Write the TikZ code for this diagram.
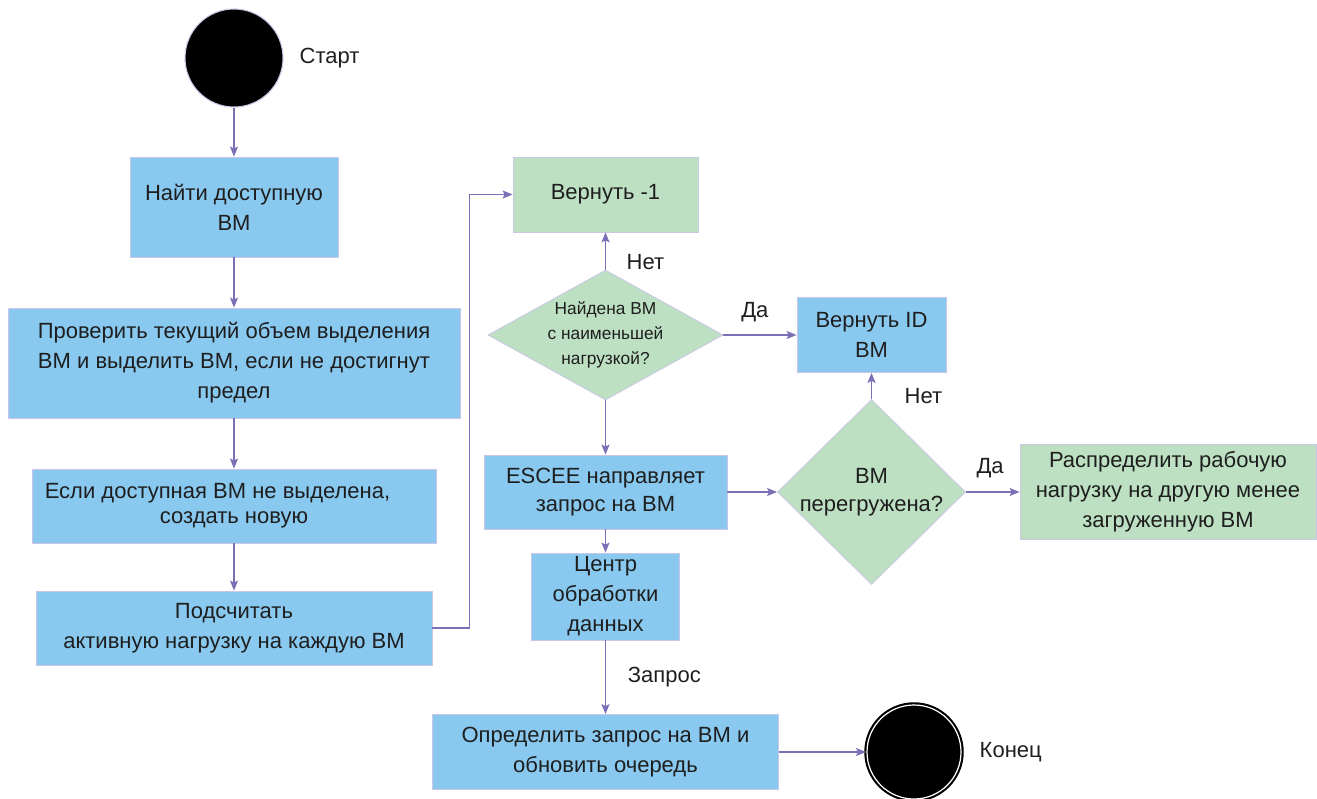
\documentclass[tikz,border=0pt]{standalone}
\usepackage{fontspec}
\setmainfont{Liberation Sans}
\usepackage{xcolor}
\usetikzlibrary{shapes.geometric, arrows.meta, positioning}

\definecolor{boxblue}{HTML}{89C9EF}
\definecolor{boxgreen}{HTML}{BDE0C3}
\definecolor{edgelav}{HTML}{C9C6E6}
\definecolor{flowpurple}{HTML}{7B70B6}
\definecolor{inktext}{HTML}{1E1E1E}

\begin{document}
\begin{tikzpicture}[
    x=0.75pt, y=-0.75pt,
    sz/.style 2 args={minimum width=#1*0.75pt, minimum height=#2*0.75pt},
    box/.style={draw=edgelav, line width=0.6pt, fill=#1, align=center, inner sep=0pt, text=inktext, font=\fontsize{16.5}{22.5}\selectfont},
    decision/.style={diamond, draw=edgelav, line width=0.6pt, fill=boxgreen, inner sep=0pt},
    lbl/.style={text=inktext, font=\fontsize{16.5}{20}\selectfont},
    arr/.style={-{Stealth[length=7.5pt, width=6pt, inset=1.5pt]}, draw=flowpurple, line width=1pt}
]
    \useasboundingbox (0,0) rectangle (1317,799);

    % Left column
    \node[circle, fill=black, draw=edgelav, line width=0.8pt, sz={98}{98}] (start) at (234,58) {};
    \node[lbl, anchor=west] (startlbl) at (295,58) {Старт};
    \node[box=boxblue, sz={208}{100}] (find)   at (234,207) {Найти доступную\\ВМ};
    \node[box=boxblue, sz={452}{110}] (check)  at (234,363) {Проверить текущий объем выделения\\ВМ и выделить ВМ, если не достигнут\\предел};
    \node[box=boxblue, sz={404}{74}, font=\fontsize{16.5}{19}\selectfont] (create) at (234,506) {Если доступная ВМ не выделена,\hspace*{1.5em}\\создать новую};
    \node[box=boxblue, sz={396}{74}]  (count)  at (234,628) {Подсчитать\\активную нагрузку на каждую ВМ};

    % Middle column
    \node[box=boxgreen, sz={185}{75}] (retneg) at (605.5,194.5) {Вернуть -1};
    \node[decision, sz={235}{130}, label={[align=center, text=inktext, font=\fontsize{13}{18.75}\selectfont]center:Найдена ВМ\\с наименьшей\\нагрузкой?}] (found) at (605.5,335) {};
    \node[box=boxblue, sz={243}{74}, font=\fontsize{16.5}{20.5}\selectfont] (escee) at (605.5,492) {ESCEE направляет\\запрос на ВМ};
    \node[box=boxblue, sz={148}{87}]  (dc)     at (605.5,596.5) {Центр\\обработки\\данных};
    \node[box=boxblue, sz={346}{75}]  (route)  at (605.5,752) {Определить запрос на ВМ и\\обновить очередь};

    % Right column
    \node[box=boxblue, sz={149}{75}]  (retid)  at (871.5,335) {Вернуть ID\\ВМ};
    \node[decision, sz={188}{185}, label={[align=center, text=inktext, font=\fontsize{16.5}{21}\selectfont]center:ВМ\\перегружена?}] (over) at (871.5,492) {};
    \node[box=boxgreen, sz={296}{95}] (spread) at (1168,492) {Распределить рабочую\\нагрузку на другую менее\\загруженную ВМ};
    \node[circle, fill=black, draw=black, line width=1.6pt, double=white, double distance=0.9pt, sz={94}{94}] (finish) at (914,752) {};
    \node[lbl, anchor=west] (finishlbl) at (975,752) {Конец};

    % Main flow
    \draw[arr] (start)  -- (find);
    \draw[arr] (find)   -- (check);
    \draw[arr] (check)  -- (create);
    \draw[arr] (create) -- (count);
    \draw[arr] (count.east) -- ++(37,0) |- (retneg.west);

    % Decisions
    \draw[arr] (found.north) -- node[lbl, pos=0.2, right=12pt]{Нет} (retneg.south);
    \draw[arr] (found.east)  -- node[lbl, pos=0.43, above=6pt]{Да} (retid.west);
    \draw[arr] (found.south) -- (escee.north);
    \draw[arr] (escee.east)  -- (over.west);
    \draw[arr] (over.north)  -- node[lbl, pos=0.1, right=21pt]{Нет} (retid.south);
    \draw[arr] (over.east)   -- node[lbl, pos=0.45, above=7pt]{Да} (spread.west);

    % Request handling
    \draw[arr] (escee.south) -- (dc.north);
    \draw[arr] (dc.south)    -- node[lbl, right=13pt]{Запрос} (route.north);
    \draw[arr] (route.east)  -- (finish.west);
\end{tikzpicture}
\end{document}
